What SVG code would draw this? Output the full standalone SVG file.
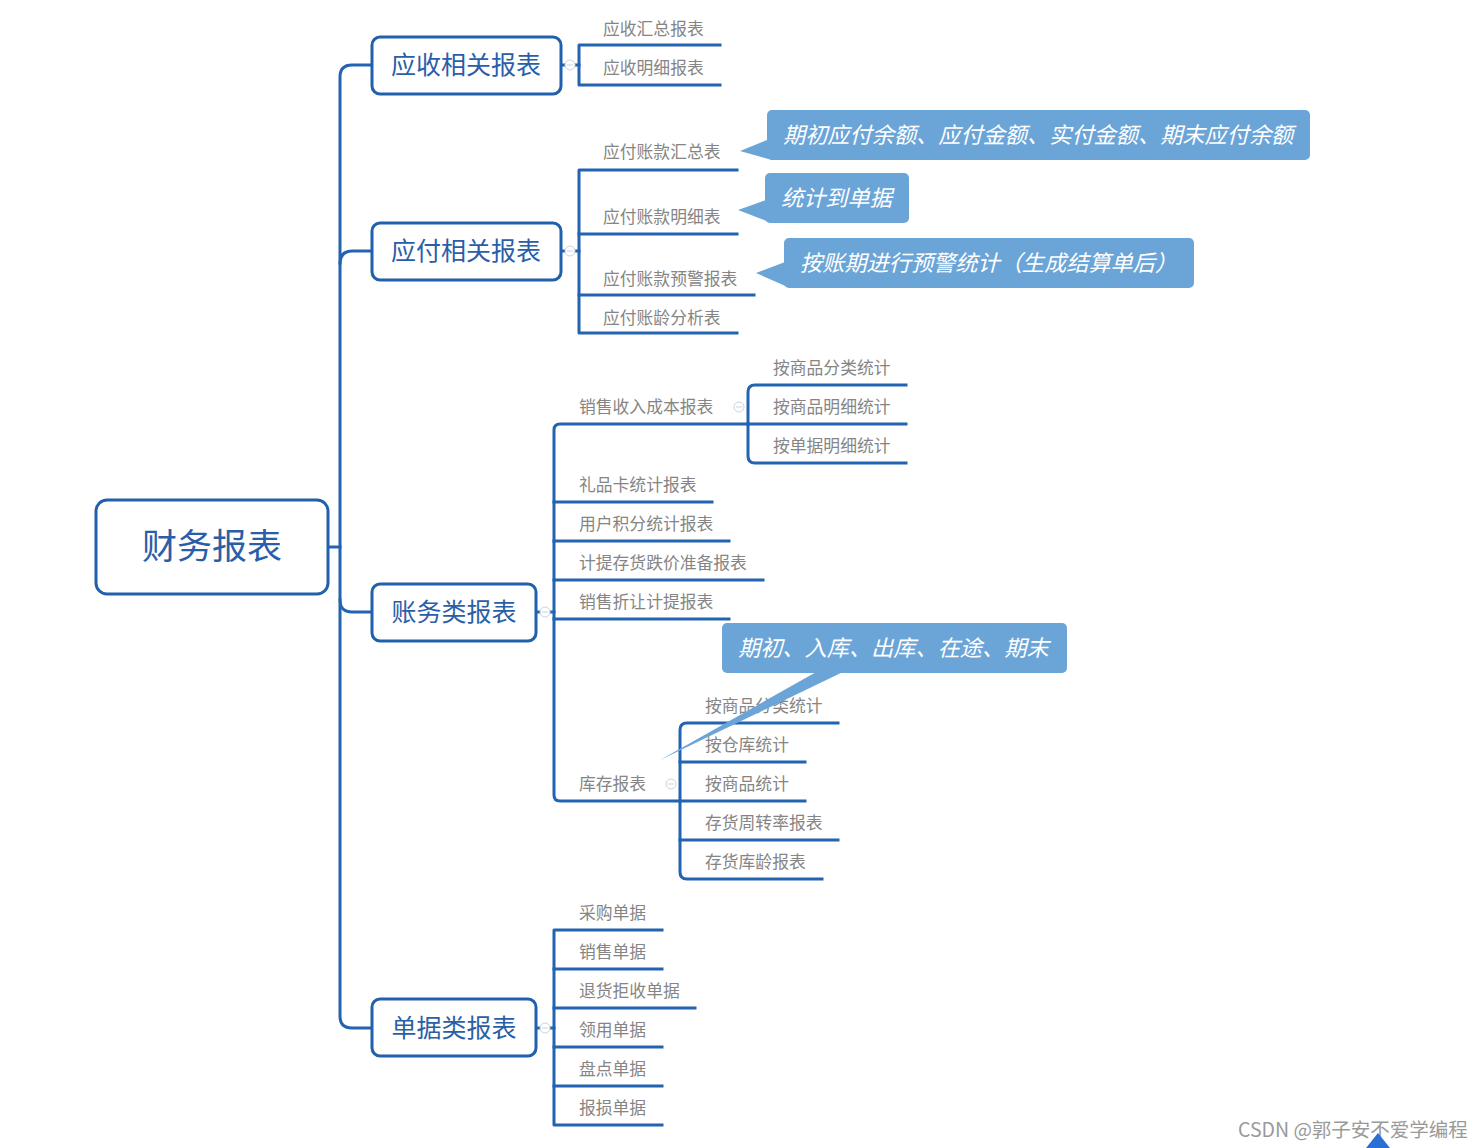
<svg xmlns="http://www.w3.org/2000/svg" width="1484" height="1148" viewBox="0 0 1484 1148">
<defs>
<style>
.ln{fill:none;stroke:#2263b2;stroke-width:3;stroke-linecap:square;stroke-linejoin:round}
.box{fill:#fff;stroke:#2160ad;stroke-width:3}
.rt{font-family:"Noto Sans CJK SC","Liberation Sans",sans-serif;font-size:35px;fill:#2a5ea8;text-anchor:middle}
.bt{font-family:"Noto Sans CJK SC","Liberation Sans",sans-serif;font-size:25px;fill:#2a5ea8;text-anchor:middle}
.lt{font-family:"Noto Sans CJK SC","Liberation Sans",sans-serif;font-size:16.8px;fill:#858585}
.co{fill:#6ba5d8}
.ct{font-family:"Noto Sans CJK SC","Liberation Sans",sans-serif;font-size:22.2px;fill:#fff;font-style:italic}
.cl{fill:#fff;stroke:#c9d3de;stroke-width:1}
.wm{font-family:"Noto Sans CJK SC","Liberation Sans",sans-serif;font-size:19.5px;fill:#9a9a9a}
</style>
</defs>
<rect width="1484" height="1148" fill="#ffffff"/>

<g id="connectors">
<path class="ln" d="M328,547 H340"/>
<path class="ln" d="M372,65 H352 Q340,65 340,77 V1016 Q340,1028 352,1028 H372"/>
<path class="ln" d="M340,263 Q340,251 352,251 H372"/>
<path class="ln" d="M340,600 Q340,612 352,612 H372"/>
<path class="ln" d="M561,65 H579"/>
<path class="ln" d="M720,45 H579 V85 H720"/>
<path class="ln" d="M561,251 H579"/>
<path class="ln" d="M737,170 H579 V333 H737"/>
<path class="ln" d="M579,234 H737"/>
<path class="ln" d="M579,295 H754"/>
<path class="ln" d="M536,612 H554"/>
<path class="ln" d="M748,424 H560 Q554,424 554,430 V795 Q554,801 560,801 H680"/>
<path class="ln" d="M554,502 H712"/>
<path class="ln" d="M554,541 H729"/>
<path class="ln" d="M554,580 H763"/>
<path class="ln" d="M554,619 H729"/>
<path class="ln" d="M906,385 H755 Q748,385 748,392 V456 Q748,463 755,463 H906"/>
<path class="ln" d="M748,424 H906"/>
<path class="ln" d="M838,723 H687 Q680,723 680,730 V872 Q680,879 687,879 H822"/>
<path class="ln" d="M680,762 H805"/>
<path class="ln" d="M680,801 H805"/>
<path class="ln" d="M680,840 H838"/>
<path class="ln" d="M536,1028 H554"/>
<path class="ln" d="M662,930 H554 V1125 H662"/>
<path class="ln" d="M554,969 H662"/>
<path class="ln" d="M554,1008 H695"/>
<path class="ln" d="M554,1047 H662"/>
<path class="ln" d="M554,1086 H662"/>
</g>

<g id="collapse-marks">
<circle class="cl" cx="570" cy="65" r="5"/><path d="M567,65 H573" stroke="#c9d3de"/>
<circle class="cl" cx="570" cy="251" r="5"/><path d="M567,251 H573" stroke="#c9d3de"/>
<circle class="cl" cx="545" cy="612" r="5"/><path d="M542,612 H548" stroke="#c9d3de"/>
<circle class="cl" cx="545" cy="1028" r="5"/><path d="M542,1028 H548" stroke="#c9d3de"/>
<circle class="cl" cx="739" cy="407" r="5"/><path d="M736,407 H742" stroke="#c9d3de"/>
<circle class="cl" cx="671" cy="784" r="5"/><path d="M668,784 H674" stroke="#c9d3de"/>
</g>

<g id="root">
<rect class="box" x="96" y="500" width="232" height="94" rx="11"/>
<text class="rt" x="212" y="559">财务报表</text>
</g>

<g id="n-yingshou">
<rect class="box" x="372" y="37" width="189" height="57" rx="8"/>
<text class="bt" x="466" y="74">应收相关报表</text>
</g>
<g id="n-yingfu">
<rect class="box" x="372" y="223" width="189" height="57" rx="8"/>
<text class="bt" x="466" y="260">应付相关报表</text>
</g>
<g id="n-zhangwu">
<rect class="box" x="372" y="584" width="164" height="57" rx="8"/>
<text class="bt" x="454" y="621">账务类报表</text>
</g>
<g id="n-danju">
<rect class="box" x="372" y="999" width="164" height="57" rx="8"/>
<text class="bt" x="454" y="1037">单据类报表</text>
</g>

<g id="l-ys1"><text class="lt" x="603" y="35">应收汇总报表</text></g>
<g id="l-ys2"><text class="lt" x="603" y="74">应收明细报表</text></g>

<g id="l-yf1"><text class="lt" x="603" y="158">应付账款汇总表</text></g>
<g id="l-yf2"><text class="lt" x="603" y="223">应付账款明细表</text></g>
<g id="l-yf3"><text class="lt" x="603" y="285">应付账款预警报表</text></g>
<g id="l-yf4"><text class="lt" x="603" y="324">应付账龄分析表</text></g>

<g id="l-xs"><text class="lt" x="579" y="413">销售收入成本报表</text></g>
<g id="l-xs1"><text class="lt" x="773" y="374">按商品分类统计</text></g>
<g id="l-xs2"><text class="lt" x="773" y="413">按商品明细统计</text></g>
<g id="l-xs3"><text class="lt" x="773" y="452">按单据明细统计</text></g>
<g id="l-lpk"><text class="lt" x="579" y="491">礼品卡统计报表</text></g>
<g id="l-jf"><text class="lt" x="579" y="530">用户积分统计报表</text></g>
<g id="l-jt"><text class="lt" x="579" y="569">计提存货跌价准备报表</text></g>
<g id="l-zr"><text class="lt" x="579" y="608">销售折让计提报表</text></g>
<g id="l-kc"><text class="lt" x="579" y="790">库存报表</text></g>
<g id="l-kc1"><text class="lt" x="705" y="712">按商品分类统计</text></g>
<g id="l-kc2"><text class="lt" x="705" y="751">按仓库统计</text></g>
<g id="l-kc3"><text class="lt" x="705" y="790">按商品统计</text></g>
<g id="l-kc4"><text class="lt" x="705" y="829">存货周转率报表</text></g>
<g id="l-kc5"><text class="lt" x="705" y="868">存货库龄报表</text></g>

<g id="l-dj1"><text class="lt" x="579" y="919">采购单据</text></g>
<g id="l-dj2"><text class="lt" x="579" y="958">销售单据</text></g>
<g id="l-dj3"><text class="lt" x="579" y="997">退货拒收单据</text></g>
<g id="l-dj4"><text class="lt" x="579" y="1036">领用单据</text></g>
<g id="l-dj5"><text class="lt" x="579" y="1075">盘点单据</text></g>
<g id="l-dj6"><text class="lt" x="579" y="1114">报损单据</text></g>

<g id="c-1">
<path class="co" d="M767,140 L740,151 L772,160 Z"/>
<rect class="co" x="767" y="110" width="543" height="50" rx="5"/>
<text class="ct" x="783" y="143">期初应付余额、应付金额、实付金额、期末应付余额</text>
</g>
<g id="c-2">
<path class="co" d="M766,200 L738,210 L772,223 Z"/>
<rect class="co" x="765" y="173" width="144" height="50" rx="5"/>
<text class="ct" x="781" y="206">统计到单据</text>
</g>
<g id="c-3">
<path class="co" d="M785,262 L756,273 L790,288 Z"/>
<rect class="co" x="784" y="238" width="410" height="50" rx="5"/>
<text class="ct" x="800" y="271">按账期进行预警统计（生成结算单后）</text>
</g>
<g id="c-4">
<path class="co" d="M818,671 L660,760 L845,671 Z"/>
<rect class="co" x="722" y="623" width="345" height="50" rx="5"/>
<text class="ct" x="738" y="656">期初、入库、出库、在途、期末</text>
</g>

<g id="watermark">
<text class="wm" x="1238" y="1137">CSDN @郭子安不爱学编程</text>
<path d="M1366,1148 L1378,1133 L1390,1148 Z" fill="#2b6fd6"/>
</g>
</svg>
